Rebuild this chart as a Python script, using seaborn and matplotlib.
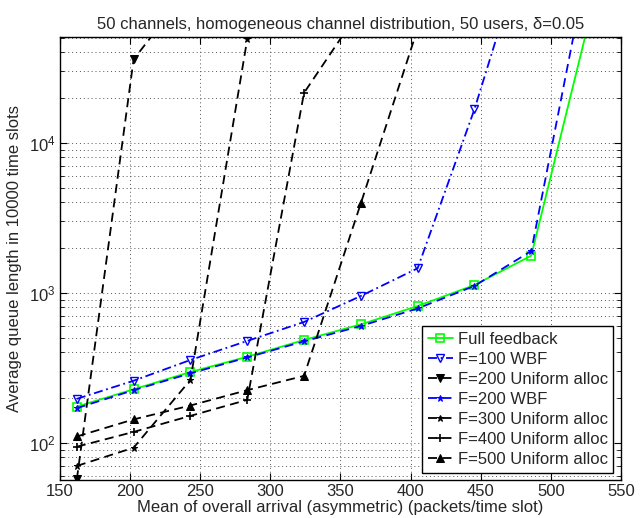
import numpy as np
import pandas as pd
import matplotlib
matplotlib.use("Agg")
import matplotlib.pyplot as plt
import seaborn as sns
from matplotlib.ticker import LogLocator, NullFormatter, FixedLocator

# ---- data ----
x_full = [162, 202.5, 243, 283.5, 324, 364.5, 405, 445.5, 486, 526.5]
y_full = [174, 227, 296, 374, 484, 615, 815, 1125, 1765, 61000]

x_wbf100 = [162, 202.5, 243, 283.5, 324, 364.5, 405, 445.5, 486]
y_wbf100 = [196, 259, 356, 477, 638, 951, 1455, 16700, 280000]

x_uni200 = [162, 202.5, 243]
y_uni200 = [57, 36000, 110000]

x_wbf200 = [162, 202.5, 243, 283.5, 324, 364.5, 405, 445.5, 486, 526.5]
y_wbf200 = [170, 224, 290, 370, 474, 600, 785, 1110, 1897, 160000]

x_uni300 = [162, 202.5, 243, 283.5]
y_uni300 = [70, 92.6, 262, 49000]

x_uni400 = [162, 202.5, 243, 283.5, 324, 364.5]
y_uni400 = [94, 118, 151, 193, 21500, 78500]

x_uni500 = [162, 202.5, 243, 283.5, 324, 364.5, 405]
y_uni500 = [110, 143, 177, 224, 279, 3945, 57500]

labels = ["Full feedback", "F=100 WBF", "F=200 Uniform alloc", "F=200 WBF",
          "F=300 Uniform alloc", "F=400 Uniform alloc", "F=500 Uniform alloc"]

title = "50 channels, homogeneous channel distribution, 50 users, \u03b4=0.05"
xlabel = "Mean of overall arrival (asymmetric) (packets/time slot)"
ylabel = "Average queue length in 10000 time slots"
xticks = [150, 200, 250, 300, 350, 400, 450, 500, 550]

# ---- style ----
sns.set_style("ticks")
plt.rcParams['font.family'] = ['Liberation Sans', 'DejaVu Sans']
plt.rcParams['mathtext.fontset'] = 'custom'
plt.rcParams['mathtext.rm'] = 'Liberation Sans'
plt.rcParams['mathtext.it'] = 'Liberation Sans:italic'
plt.rcParams['xtick.direction'] = 'in'
plt.rcParams['ytick.direction'] = 'in'

fig = plt.figure(figsize=(6.44, 5.18), dpi=100)
ax = fig.add_axes([60/644, 38/518, 561/644, 443/518])

series = [
    (x_full, y_full, dict(color="#00ff00", linestyle="-", marker="s", mfc="none", mec="#00ff00", ms=6, mew=1.2)),
    (x_wbf100, y_wbf100, dict(color="blue", linestyle=(0, (5, 2, 1, 2)), marker="v", mfc="none", mec="blue", ms=6, mew=1.0)),
    (x_uni200, y_uni200, dict(color="black", linestyle=(0, (5, 3)), marker="v", mfc="black", mec="black", ms=6)),
    (x_wbf200, y_wbf200, dict(color="blue", linestyle=(0, (5, 3)), marker="*", mfc="blue", mec="blue", ms=5)),
    (x_uni300, y_uni300, dict(color="black", linestyle=(0, (5, 3)), marker="*", mfc="black", mec="black", ms=5)),
    (x_uni400, y_uni400, dict(color="black", linestyle=(0, (5, 3)), marker="+", mfc="black", mec="black", ms=6, mew=1.2)),
    (x_uni500, y_uni500, dict(color="black", linestyle=(0, (5, 3)), marker="^", mfc="black", mec="black", ms=6)),
]

for (xs, ys, kw), lab in zip(series, labels):
    df = pd.DataFrame({"x": xs, "y": ys})
    sns.lineplot(data=df, x="x", y="y", ax=ax, label=lab, lw=1.3, sort=False, **kw)

ax.set_yscale("log")
ax.set_xlim(150, 550)
ax.set_ylim(56.4, 50700)
ax.xaxis.set_major_locator(FixedLocator(xticks))
ax.yaxis.set_major_locator(LogLocator(base=10, numticks=10))
ax.yaxis.set_minor_locator(LogLocator(base=10, subs=np.arange(2, 10), numticks=20))
ax.yaxis.set_minor_formatter(NullFormatter())

ax.grid(True, which="major", axis="both", color="#555555", linestyle=(0, (1, 3)), linewidth=0.7)
ax.grid(True, which="minor", axis="y", color="#555555", linestyle=(0, (1, 3)), linewidth=0.7)

ax.tick_params(which="both", top=True, right=True, labelsize=12, color="black", pad=3)
ax.tick_params(which="major", length=5)
ax.tick_params(which="minor", length=3)
for s in ax.spines.values():
    s.set_color("black")
    s.set_linewidth(1.0)

ax.set_title(title, fontsize=12, pad=6)
ax.set_xlabel(xlabel, fontsize=12, labelpad=0.5)
ax.set_ylabel(ylabel, fontsize=12, labelpad=5)

leg = ax.legend(loc="lower right", fontsize=12, frameon=True, fancybox=False,
                edgecolor="black", framealpha=1, handlelength=1.5, handletextpad=0.3,
                labelspacing=0.3, borderpad=0.35, borderaxespad=0.45)
leg.get_frame().set_linewidth(1.0)

fig.savefig("out.png", dpi=100)
